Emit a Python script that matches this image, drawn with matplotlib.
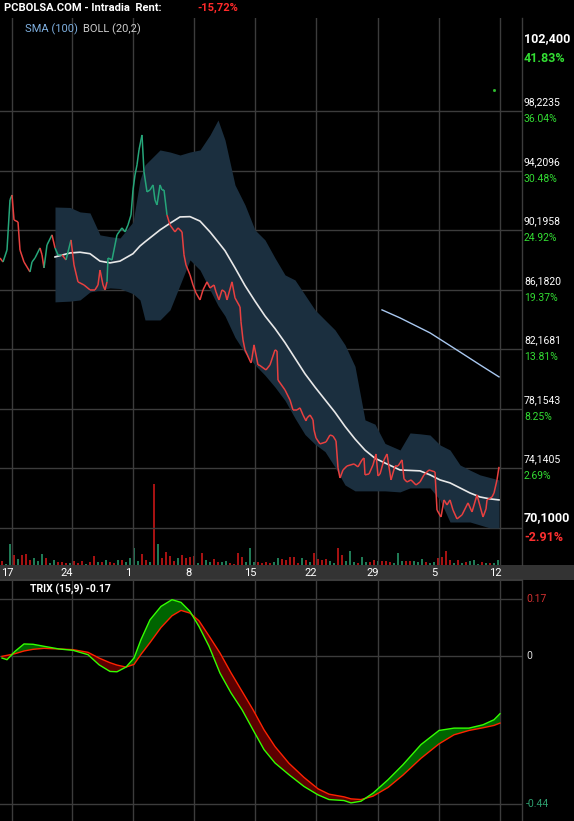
import numpy as np
import matplotlib
matplotlib.use("Agg")
import matplotlib.pyplot as plt
from matplotlib.collections import LineCollection

# ---------------- data ----------------
price_t = [0,3,7,10,12,14,18,20,24,30,32,35,40,42,44,47,52,55,58,62,66,68,71,74,78,84,90,95,98,100,103,105,107,108,112,117,122,125,128,131,133,135,137,139,142,144,147,150,153,155,157,160,162,164,167,170,175,178,182,184,186,190,193,196,200,203,207,210,214,216,219,222,225,227,232,235,240,241,243,245,251,252,254,258,259,266,270,275,277,278,285,290,293,297,300,303,306,307,310,313,314,316,320,326,330,333,336,338,340,343,347,354,358,362,364,365,369,373,376,378,380,384,387,391,395,398,400,402,404,407,411,416,420,424,429,435,437,441,444,447,450,453,457,462,468,472,477,480,483,486,487,492,494,497,499]
price = [88.31,88.04,88.85,92.23,92.56,90.88,90.74,88.85,88.04,87.37,88.04,88.31,88.99,88.52,87.64,89.19,89.87,88.99,88.52,88.52,88.18,88.72,89.53,87.84,86.70,86.49,86.16,86.16,86.49,87.50,86.49,86.16,86.70,88.31,88.18,89.87,90.34,90.07,90.54,91.21,92.90,93.91,94.59,95.60,96.61,94.12,92.77,92.90,93.24,92.23,91.89,93.24,92.90,92.90,91.21,90.54,90.07,90.34,90.07,88.52,87.84,87.17,86.49,85.95,85.48,86.16,86.70,86.29,86.49,86.02,85.48,86.16,86.02,85.48,86.70,85.62,85.01,84.00,82.78,82.11,81.23,81.57,82.45,81.10,81.10,80.76,81.10,82.11,82.04,80.08,79.41,78.73,78.06,78.06,78.20,77.72,77.32,77.52,77.72,77.39,76.71,76.17,75.77,75.90,76.37,76.30,75.97,74.15,73.47,74.01,74.28,74.42,74.22,74.69,74.82,73.68,73.74,74.35,75.09,73.61,73.74,74.69,75.09,73.34,74.28,74.28,74.48,74.69,73.41,73.20,73.34,73.00,73.20,73.68,74.01,73.88,71.31,70.84,71.99,71.65,71.99,71.31,70.71,70.98,71.79,71.18,72.33,71.58,70.84,71.38,71.99,72.19,72.46,73.34,74.22]

band_t = [55,70,80,90,100,110,120,133,140,145,160,170,180,190,200,210,218,225,235,245,255,265,275,285,295,305,315,325,335,345,355,365,375,385,400,410,420,430,440,450,460,470,480,490,499]
boll_upper = [91.75,91.72,91.42,91.35,89.87,89.75,89.66,90.74,93.58,94.59,95.60,95.46,95.26,95.46,95.60,96.61,97.62,96.27,93.24,91.89,90.20,89.53,88.31,87.17,86.83,85.82,84.81,84.13,83.46,82.45,81.00,77.39,77.10,75.80,75.36,76.51,76.45,76.37,75.70,75.36,74.35,74.00,73.68,73.50,73.34]
boll_mid = [88.38,88.65,88.70,88.60,88.10,87.98,88.10,88.60,89.12,89.40,90.20,90.65,91.08,91.10,90.80,90.07,89.40,88.80,87.65,86.45,85.40,84.40,83.55,82.60,81.55,80.50,79.60,78.75,77.90,76.95,76.10,75.35,74.80,74.48,74.01,73.98,73.95,73.68,73.34,73.14,72.80,72.46,72.19,72.06,71.99]
boll_lower = [85.35,85.40,85.48,86.02,86.15,86.29,86.25,85.90,85.48,84.13,84.13,84.81,86.49,88.18,87.50,86.16,85.10,84.40,82.95,81.90,81.10,80.40,79.60,78.70,77.50,76.40,75.75,75.25,74.20,73.00,72.60,72.60,72.60,72.60,72.53,72.80,72.80,72.80,71.99,70.50,70.50,70.50,70.30,70.10,70.10]

sma_t = [382,400,430,460,480,499]
sma100 = [84.81,84.27,83.26,81.97,81.10,80.29]

volume = [4,1,21,10,6,10,11,5,7,4,11,7,2,5,3,3,2,2,4,2,4,1,3,9,3,3,5,3,2,5,5,3,7,17,4,11,5,3,81,21,7,13,9,4,7,10,7,8,9,2,12,5,3,6,3,3,4,2,1,12,8,3,17,3,
          3,2,3,2,3,7,6,5,8,8,2,7,5,3,12,6,5,6,4,2,17,10,4,14,3,2,8,3,3,5,4,4,4,3,2,12,4,4,4,4,3,6,3,2,3,7,8,14,5,2,5,2,3,4,5,1,3,2,2,2,5]
volume_up = "rggrgrrrgggrggrrrgrrrgrrgrgrrgrggggrrgrgrrrrgrrrrgrggrrggrrrrgggr" \
            "rrrggrrrrrgrgrrrrggrrgggrggrrgrrrgggrrgggrggrrrrgrgrgggrgrgg"

trix_t = [2,7,15,24,33,44,59,73,88,99,110,117,126,134,141,150,161,172,181,190,199,209,220,231,242,253,264,275,289,304,318,329,344,351,361,373,388,403,421,439,454,469,483,494,500]
trix = [-0.006,-0.011,0.014,0.036,0.035,0.029,0.021,0.017,0.004,-0.026,-0.046,-0.047,-0.033,-0.006,0.049,0.108,0.148,0.168,0.160,0.133,0.088,0.029,-0.051,-0.110,-0.160,-0.220,-0.279,-0.319,-0.354,-0.389,-0.414,-0.428,-0.431,-0.438,-0.433,-0.409,-0.369,-0.324,-0.264,-0.222,-0.215,-0.215,-0.205,-0.190,-0.172]
signal = [-0.001,0.002,0.007,0.015,0.020,0.023,0.021,0.019,0.011,-0.006,-0.020,-0.027,-0.033,-0.025,0.005,0.040,0.085,0.120,0.136,0.128,0.105,0.060,0.009,-0.050,-0.105,-0.160,-0.220,-0.270,-0.320,-0.362,-0.396,-0.412,-0.420,-0.426,-0.428,-0.418,-0.392,-0.355,-0.305,-0.262,-0.235,-0.222,-0.214,-0.207,-0.200]

date_pos = [12,72,133,194,255,316,378,439,500]
date_labels = ["17","24","1","8","15","22","29","5","12"]
grid_prices = [70.1,74.1405,78.1543,82.1681,86.1820,90.1958,94.2096,98.2235,102.400]
price_labels = ["70,1000","74,1405","78,1543","82,1681","86,1820","90,1958","94,2096","98,2235","102,400"]
pct_labels = ["-2.91%","2.69%","8.25%","13.81%","19.37%","24.92%","30.48%","36.04%","41.83%"]

# ---------------- figure ----------------
W, H = 574, 821
fig = plt.figure(figsize=(W/100, H/100), dpi=100, facecolor="black")
def rect(x0, y0, x1, y1):
    return [x0/W, 1-y1/H, (x1-x0)/W, (y1-y0)/H]

GRID = "#3c3c3c"
ax = fig.add_axes(rect(0, 18, 522, 565))
ax.set_facecolor("black")
ax.set_xlim(0, 522)
ax.set_ylim(67.60, 104.50)
axv = ax.twinx()
axv.set_ylim(0, 547)
axv.set_zorder(0); ax.set_zorder(1); ax.patch.set_visible(False)
fig.patch.set_facecolor("black")
for a in (ax, axv):
    a.set_xticks([]); a.set_yticks([])
    for s in a.spines.values():
        s.set_visible(False)
axv.patch.set_facecolor("black")

for x in date_pos:
    ax.axvline(x, color=GRID, lw=1, zorder=0)
for p in grid_prices[1:-1]:
    ax.axhline(p, color=GRID, lw=1, zorder=0)
ax.axhline(grid_prices[0], color=GRID, lw=1, zorder=0)

vt = [2 + 4*i for i in range(len(volume))]
vc = ["#1f7a55" if c == "g" else "#a51212" for c in volume_up[:len(volume)]]
axv.bar(vt, volume, width=2.6, color=vc, zorder=2)

ax.fill_between(band_t, boll_lower, boll_upper, color="#1b2f3f", lw=0, zorder=1, step=None)
ax.plot(band_t, boll_mid, color="#e8e8e8", lw=1.2, zorder=3)
ax.plot(sma_t, sma100, color="#a9c8f0", lw=1, zorder=3)

segs, cols = [], []
mid_at = np.interp(price_t, band_t, boll_mid)
for i in range(len(price_t)-1):
    segs.append([(price_t[i], price[i]), (price_t[i+1], price[i+1])])
    if price_t[i] < 55:
        up = price[i+1] >= price[i]
    else:
        up = price[i+1] >= mid_at[i+1] and price_t[i] < 180
    cols.append("#26a67a" if up else "#e8403f")
ax.add_collection(LineCollection(segs, colors=cols, linewidths=1.1, zorder=4))
ax.plot([494], [99.65], marker="s", ms=1, color="#30c030", zorder=4)

# right labels
for p, pl, pc, i in zip(grid_prices, price_labels, pct_labels, range(9)):
    big = i in (0, 8)
    fs = 9 if big else 7.5
    ax.text(524, p + 0.25, pl, color="white", fontsize=fs, fontweight="bold" if big else "normal",
            va="bottom", ha="left", clip_on=False, family="Roboto")
    col = "#ff3030" if pc.startswith("-") else "#33dd33"
    ax.text(524, p - 0.2, pc, color=col, fontsize=fs, fontweight="bold" if big else "normal",
            va="top", ha="left", clip_on=False, family="Roboto")

# header
fig.text(4/W, 1-8/H, "PCBOLSA.COM - Intradia  Rent:", color="white", fontsize=8, fontweight="bold", va="center", family="Roboto")
fig.text(197/W, 1-8/H, "-15,72%", color="#ff2a2a", fontsize=8, fontweight="bold", va="center", family="Roboto")
fig.text(25/W, 1-29/H, "SMA (100)", color="#7fb0e0", fontsize=8, va="center", family="Roboto")
fig.text(83/W, 1-29/H, "BOLL (20,2)", color="#cccccc", fontsize=8, va="center", family="Roboto")

# date band
axd = fig.add_axes(rect(0, 565, 574, 580))
axd.set_facecolor("#333333"); axd.set_xlim(0, 574); axd.set_ylim(0, 1)
axd.set_xticks([]); axd.set_yticks([])
for s in axd.spines.values(): s.set_visible(False)
for x, l in zip(date_pos, date_labels):
    axd.text(x - 5, 0.45, l, color="white", fontsize=8, ha="center", va="center", family="Roboto")
fig.add_artist(plt.Line2D([522/W, 522/W], [1-565/H, 1-18/H], color=GRID, lw=1))

# TRIX
axt = fig.add_axes(rect(0, 580, 522, 821))
axt.set_facecolor("black")
axt.set_xlim(0, 522); axt.set_ylim(-0.492, 0.2267)
axt.set_xticks([]); axt.set_yticks([])
for s in axt.spines.values(): s.set_visible(False)
for x in date_pos:
    axt.axvline(x, color=GRID, lw=1, zorder=0)
for v in (0.17, 0, -0.44):
    axt.axhline(v, color=GRID, lw=1, zorder=0)
tr = np.array(trix); sg = np.array(signal)
axt.fill_between(trix_t, tr, sg, where=tr >= sg, interpolate=True, color="#006400", lw=0, zorder=1)
axt.fill_between(trix_t, tr, sg, where=tr < sg, interpolate=True, color="#5c0000", lw=0, zorder=1)
axt.plot(trix_t, signal, color="#ff2200", lw=1, zorder=2)
axt.plot(trix_t, trix, color="#33ff00", lw=1, zorder=3)
axt.text(30, 0.2, "TRIX (15,9) -0.17", color="white", fontsize=7.5, fontweight="bold", va="center", family="Roboto")
axt.text(526, 0.17, "0.17", color="#d03030", fontsize=7.5, va="center", clip_on=False, family="Roboto")
axt.text(526, 0.0, "0", color="#dddddd", fontsize=7.5, va="center", clip_on=False, family="Roboto")
axt.text(526, -0.44, "-0.44", color="#2e9e6e", fontsize=7.5, va="center", clip_on=False, family="Roboto")
fig.add_artist(plt.Line2D([0, 522/W], [1-580/H, 1-580/H], color=GRID, lw=1.5))
fig.add_artist(plt.Line2D([522/W, 522/W], [0, 1-580/H], color=GRID, lw=1))

fig.savefig("out.png", dpi=100, facecolor="black")
